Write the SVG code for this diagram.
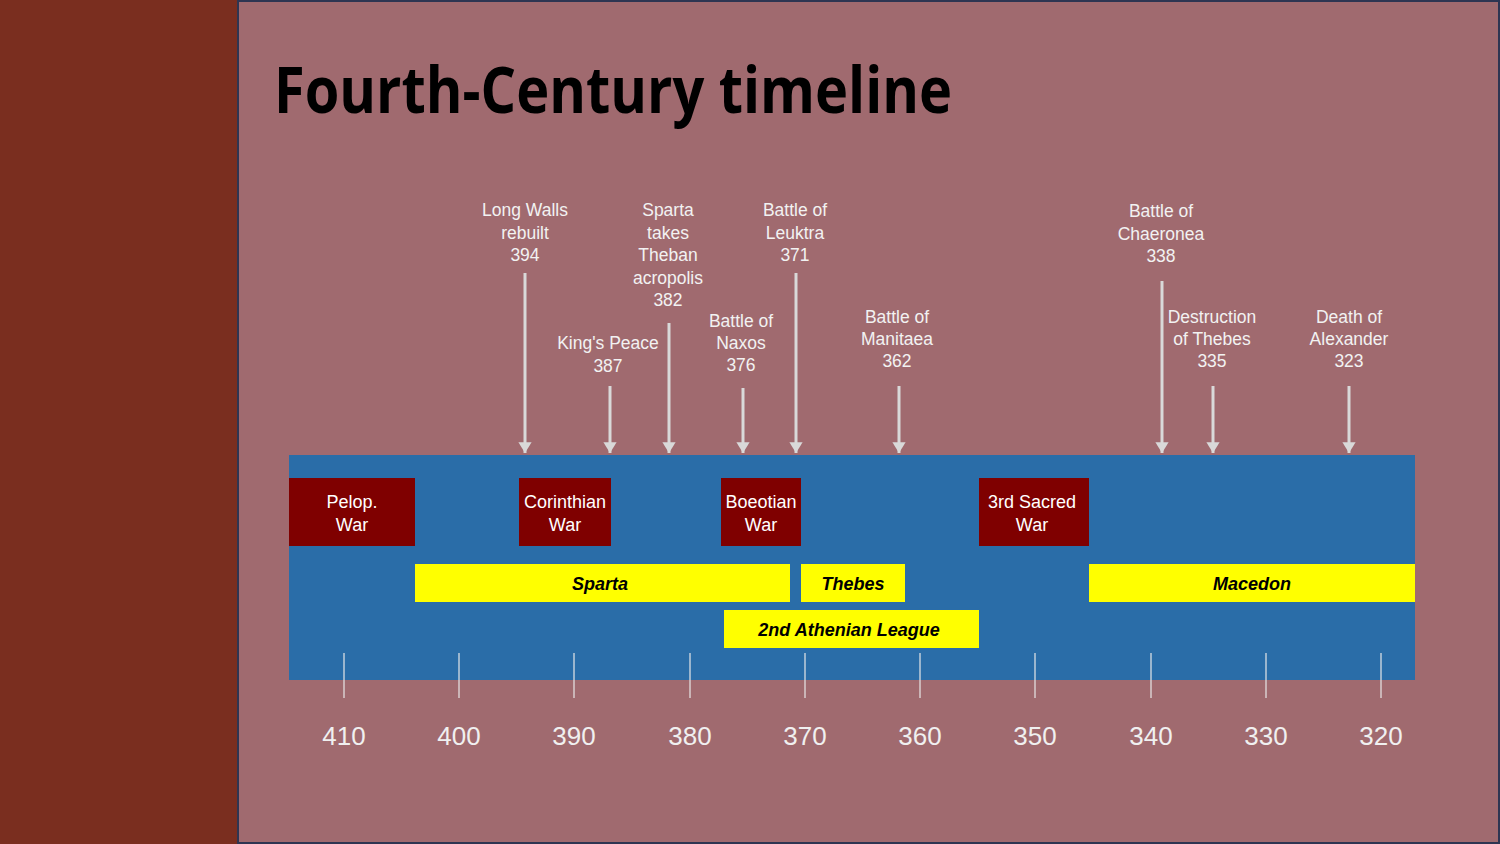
<svg xmlns="http://www.w3.org/2000/svg" width="1500" height="844" viewBox="0 0 1500 844">
<style>
.lbl{font-family:"Liberation Sans",Arial,sans-serif;font-size:17.5px;fill:#F2F2F2;text-anchor:middle}
.war{font-family:"Liberation Sans",Arial,sans-serif;font-size:18px;fill:#FFFFFF;text-anchor:middle}
.pow{font-family:"Liberation Sans",Arial,sans-serif;font-size:18px;font-weight:bold;font-style:italic;fill:#000;text-anchor:middle}
.yr{font-family:"Liberation Sans",Arial,sans-serif;font-size:26px;fill:#F0F0F0;text-anchor:middle}
.arr{stroke:#D9D9D9;stroke-width:3;fill:none;marker-end:url(#ah)}
.tick{stroke:#E8E8E8;stroke-width:1.2}
.wbox{fill:#7F0000}
.ybox{fill:#FFFF00}
</style>
<defs>
<marker id="ah" markerWidth="4" markerHeight="4.4" refX="3.6" refY="2.2" orient="auto" markerUnits="strokeWidth">
<path d="M0,0 L3.6,2.2 L0,4.4 Z" fill="#D9D9D9"/>
</marker>
</defs>
<rect x="0" y="0" width="1500" height="844" fill="#A06A6F"/>
<rect x="0" y="0" width="238" height="844" fill="#7A2E1F"/>
<rect x="238" y="1" width="1261" height="842" fill="#A06A6F" stroke="#2E3552" stroke-width="2"/>
<text x="274" y="113" font-family="'Open Sans','Noto Sans',sans-serif" font-weight="bold" font-size="64" fill="#000" textLength="678" lengthAdjust="spacingAndGlyphs">Fourth-Century timeline</text>

<g id="band"><rect x="289" y="455" width="1126" height="225" fill="#2A6DA8"/></g>

<g id="connectors">
<line class="arr" x1="525" y1="273" x2="525" y2="453"/>
<line class="arr" x1="669" y1="323" x2="669" y2="453"/>
<line class="arr" x1="610" y1="386" x2="610" y2="453"/>
<line class="arr" x1="743" y1="388" x2="743" y2="453"/>
<line class="arr" x1="796" y1="273" x2="796" y2="453"/>
<line class="arr" x1="899" y1="386" x2="899" y2="453"/>
<line class="arr" x1="1162" y1="281" x2="1162" y2="453"/>
<line class="arr" x1="1213" y1="386" x2="1213" y2="453"/>
<line class="arr" x1="1349" y1="386" x2="1349" y2="453"/>
</g>

<g id="ev394"><text class="lbl" x="525" y="216">Long Walls</text><text class="lbl" x="525" y="239">rebuilt</text><text class="lbl" x="525" y="261">394</text></g>
<g id="ev382"><text class="lbl" x="668" y="216">Sparta</text><text class="lbl" x="668" y="239">takes</text><text class="lbl" x="668" y="261">Theban</text><text class="lbl" x="668" y="284">acropolis</text><text class="lbl" x="668" y="306">382</text></g>
<g id="ev387"><text class="lbl" x="608" y="349">King's Peace</text><text class="lbl" x="608" y="372">387</text></g>
<g id="ev376"><text class="lbl" x="741" y="327">Battle of</text><text class="lbl" x="741" y="349">Naxos</text><text class="lbl" x="741" y="371">376</text></g>
<g id="ev371"><text class="lbl" x="795" y="216">Battle of</text><text class="lbl" x="795" y="239">Leuktra</text><text class="lbl" x="795" y="261">371</text></g>
<g id="ev362"><text class="lbl" x="897" y="323">Battle of</text><text class="lbl" x="897" y="345">Manitaea</text><text class="lbl" x="897" y="367">362</text></g>
<g id="ev338"><text class="lbl" x="1161" y="217">Battle of</text><text class="lbl" x="1161" y="240">Chaeronea</text><text class="lbl" x="1161" y="262">338</text></g>
<g id="ev335"><text class="lbl" x="1212" y="323">Destruction</text><text class="lbl" x="1212" y="345">of Thebes</text><text class="lbl" x="1212" y="367">335</text></g>
<g id="ev323"><text class="lbl" x="1349" y="323">Death of</text><text class="lbl" x="1349" y="345">Alexander</text><text class="lbl" x="1349" y="367">323</text></g>

<g id="pelop"><rect class="wbox" x="289" y="478" width="126" height="68"/><text class="war" x="352" y="508">Pelop.</text><text class="war" x="352" y="531">War</text></g>
<g id="corinthian"><rect class="wbox" x="519" y="478" width="92" height="68"/><text class="war" x="565" y="508">Corinthian</text><text class="war" x="565" y="531">War</text></g>
<g id="boeotian"><rect class="wbox" x="721" y="478" width="80" height="68"/><text class="war" x="761" y="508">Boeotian</text><text class="war" x="761" y="531">War</text></g>
<g id="sacred"><rect class="wbox" x="979" y="478" width="110" height="68"/><text class="war" x="1032" y="508">3rd Sacred</text><text class="war" x="1032" y="531">War</text></g>

<g id="sparta"><rect class="ybox" x="415" y="564" width="375" height="38"/><text class="pow" x="600" y="590">Sparta</text></g>
<g id="thebes"><rect class="ybox" x="801" y="564" width="104" height="38"/><text class="pow" x="853" y="590">Thebes</text></g>
<g id="macedon"><rect class="ybox" x="1089" y="564" width="326" height="38"/><text class="pow" x="1252" y="590">Macedon</text></g>
<g id="athenian"><rect class="ybox" x="724" y="610" width="255" height="38"/><text class="pow" x="849" y="636">2nd Athenian League</text></g>

<g id="axis">
<line class="tick" x1="344" y1="653" x2="344" y2="698"/>
<line class="tick" x1="459" y1="653" x2="459" y2="698"/>
<line class="tick" x1="574" y1="653" x2="574" y2="698"/>
<line class="tick" x1="690" y1="653" x2="690" y2="698"/>
<line class="tick" x1="805" y1="653" x2="805" y2="698"/>
<line class="tick" x1="920" y1="653" x2="920" y2="698"/>
<line class="tick" x1="1035" y1="653" x2="1035" y2="698"/>
<line class="tick" x1="1151" y1="653" x2="1151" y2="698"/>
<line class="tick" x1="1266" y1="653" x2="1266" y2="698"/>
<line class="tick" x1="1381" y1="653" x2="1381" y2="698"/>
<text class="yr" x="344" y="745">410</text>
<text class="yr" x="459" y="745">400</text>
<text class="yr" x="574" y="745">390</text>
<text class="yr" x="690" y="745">380</text>
<text class="yr" x="805" y="745">370</text>
<text class="yr" x="920" y="745">360</text>
<text class="yr" x="1035" y="745">350</text>
<text class="yr" x="1151" y="745">340</text>
<text class="yr" x="1266" y="745">330</text>
<text class="yr" x="1381" y="745">320</text>
</g>
</svg>
